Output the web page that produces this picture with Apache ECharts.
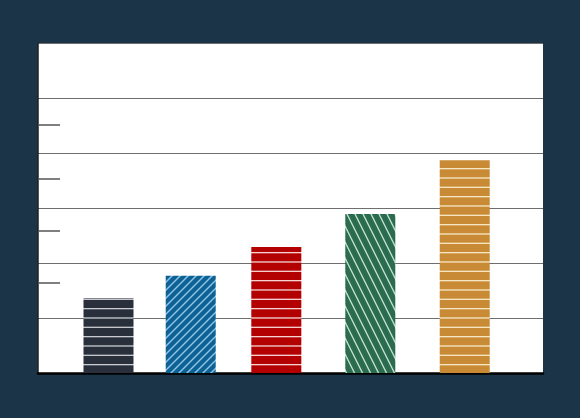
<!DOCTYPE html>
<html><head><meta charset="utf-8">
<script src="https://cdn.jsdelivr.net/npm/echarts@6/dist/echarts.min.js"></script>
<style>html,body{margin:0;padding:0;background:#1b3448}#c{width:580px;height:418px}</style>
</head><body><div id="c"></div>
<script>
// Data
const categories = ['A', 'B', 'C', 'D', 'E'];
const xValues = [13.96, 30.24, 47.19, 65.8, 84.5];
const values = [13.6, 17.7, 22.9, 28.9, 38.7];
const tickValues = [16.4, 25.9, 35.4, 45.1];
const gridValues = [0, 10, 20, 30, 40, 50, 60];

function hPattern(bg, line, h3) {
  const c = document.createElement('canvas');
  c.width = 8; c.height = 28;
  const g = c.getContext('2d');
  g.fillStyle = bg; g.fillRect(0, 0, 8, 28);
  g.fillStyle = line;
  [0, 9.33, 18.67].forEach(y => g.fillRect(0, y, 8, 1.3));
  return { image: c, repeat: 'repeat' };
}
function slashPattern(bg, line) {
  const s = 8;
  const c = document.createElement('canvas');
  c.width = s; c.height = s;
  const g = c.getContext('2d');
  g.fillStyle = bg; g.fillRect(0, 0, s, s);
  g.strokeStyle = line; g.lineWidth = 1.4;
  g.beginPath();
  g.moveTo(-1, s + 1); g.lineTo(s + 1, -1);
  g.moveTo(-s - 1, s + 1); g.lineTo(1, -1);
  g.moveTo(s - 1, s + 1); g.lineTo(2 * s + 1, -1);
  g.stroke();
  return { image: c, repeat: 'repeat' };
}
function backPattern(bg, line) {
  const w = 8, h = 16;
  const c = document.createElement('canvas');
  c.width = w; c.height = h;
  const g = c.getContext('2d');
  g.fillStyle = bg; g.fillRect(0, 0, w, h);
  g.strokeStyle = line; g.lineWidth = 1.4;
  g.beginPath();
  for (let k = -1; k <= 1; k++) {
    g.moveTo(k * w - 1, -2); g.lineTo(k * w + w + 1, h + 2);
  }
  g.stroke();
  return { image: c, repeat: 'repeat' };
}

const fills = [
  hPattern('#2a303b', '#c9cbd0'),
  slashPattern('#0d6194', '#93c6e6'),
  hPattern('#b30000', '#f4d4d4'),
  backPattern('#2b6b4f', '#c2e0cc'),
  hPattern('#c98a35', '#f7e6c6')
];

const chart = echarts.init(document.getElementById('c'), null, { renderer: 'canvas' });
chart.setOption({
  backgroundColor: '#1b3448',
  animation: false,
  grid: { left: 38, right: 37, top: 43, bottom: 45, show: true, backgroundColor: '#ffffff', borderWidth: 0 },
  xAxis: {
    type: 'value', min: 0, max: 100,
    axisLine: { show: true, lineStyle: { color: '#000', width: 2.5 } },
    axisTick: { show: false }, axisLabel: { show: false }, splitLine: { show: false }
  },
  yAxis: [{
    type: 'value', min: gridValues[0], max: gridValues[gridValues.length - 1], interval: 10,
    axisLine: { show: true, lineStyle: { color: '#222', width: 1.5 } },
    axisTick: { show: false }, axisLabel: { show: false },
    splitLine: { show: true, lineStyle: { color: '#6e6e6e', width: 1 } }
  }, {
    type: 'value', min: gridValues[0], max: gridValues[gridValues.length - 1], position: 'left',
    axisLine: { show: false },
    axisTick: { show: true, inside: true, length: 22, customValues: tickValues, lineStyle: { color: '#555', width: 1.5 } },
    axisLabel: { show: false, customValues: tickValues },
    splitLine: { show: false }
  }],
  series: [{
    type: 'bar',
    barWidth: 50,
    yAxisIndex: 0,
    data: values.map((v, i) => ({ name: categories[i], value: [xValues[i], v], itemStyle: { color: fills[i] } }))
  }]
});
</script>
</body></html>
